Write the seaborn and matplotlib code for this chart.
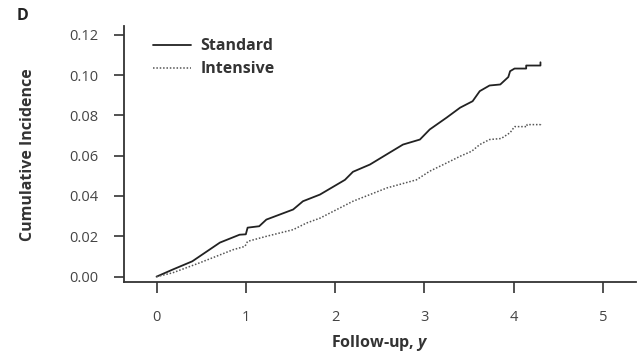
import matplotlib
matplotlib.use("Agg")
import matplotlib.pyplot as plt
import seaborn as sns
import pandas as pd

# Data
t_standard = [0, 0.18, 0.40, 0.71, 0.93, 1.00, 1.02, 1.15, 1.23, 1.38, 1.53, 1.64,
              1.83, 2.11, 2.20, 2.39, 2.61, 2.76, 2.95, 3.06, 3.25, 3.40, 3.54, 3.62,
              3.73, 3.85, 3.94, 3.96, 4.01, 4.14, 4.14, 4.30, 4.30]
y_standard = [0, 0.0035, 0.0076, 0.0169, 0.0208, 0.0210, 0.0243, 0.0250, 0.0283, 0.0308,
              0.0333, 0.0374, 0.0407, 0.0480, 0.0520, 0.0556, 0.0615, 0.0655, 0.0680,
              0.0730, 0.0789, 0.0838, 0.0870, 0.0920, 0.0948, 0.0953, 0.0990, 0.1019,
              0.1032, 0.1032, 0.1047, 0.1047, 0.1063]

t_intensive = [0, 0.18, 0.48, 0.86, 0.99, 1.02, 1.23, 1.53, 1.68, 1.83, 2.20, 2.58,
               2.91, 3.06, 3.25, 3.40, 3.53, 3.62, 3.73, 3.86, 3.96, 4.01, 4.15, 4.15,
               4.30, 4.30]
y_intensive = [0, 0.0019, 0.0068, 0.0134, 0.0150, 0.0175, 0.0200, 0.0233, 0.0266,
               0.0290, 0.0374, 0.0440, 0.0480, 0.0523, 0.0564, 0.0597, 0.0622, 0.0655,
               0.0680, 0.0685, 0.0714, 0.0744, 0.0744, 0.0754, 0.0754, 0.0763]

series_names = ["Standard", "Intensive"]
x_ticks = [0, 1, 2, 3, 4, 5]
y_ticks = [0.00, 0.02, 0.04, 0.06, 0.08, 0.10, 0.12]

sns.set_style("ticks")
plt.rcParams["font.family"] = ["Open Sans", "DejaVu Sans"]
plt.rcParams["mathtext.fontset"] = "custom"
plt.rcParams["mathtext.bfit"] = "Open Sans:italic:bold"
plt.rcParams["mathtext.it"] = "Open Sans:italic"
plt.rcParams["mathtext.bf"] = "Open Sans:bold"
plt.rcParams["mathtext.rm"] = "Open Sans"

text_col = "#333333"

fig = plt.figure(figsize=(6.42, 3.57), dpi=100)
ax = fig.add_axes([123.5 / 642, 1 - 282.3 / 357, (636 - 123.5) / 642, (282.3 - 26) / 357])

df_s = pd.DataFrame({"t": t_standard, "y": y_standard})
df_i = pd.DataFrame({"t": t_intensive, "y": y_intensive})

sns.lineplot(data=df_s, x="t", y="y", estimator=None, sort=False, ax=ax,
             color="#222222", linewidth=1.3, label=series_names[0])
sns.lineplot(data=df_i, x="t", y="y", estimator=None, sort=False, ax=ax,
             color="#555555", linewidth=1.1, linestyle=(0, (1, 1.2)), label=series_names[1])

ax.set_xlim(-0.37, 5.37)
ax.set_ylim(-0.0028, 0.1243)
ax.set_xticks(x_ticks)
ax.set_xticklabels([str(v) for v in x_ticks])
ax.set_yticks(y_ticks)
ax.set_yticklabels([f"{v:.2f}" for v in y_ticks])

for s in ["top", "right"]:
    ax.spines[s].set_visible(False)
for s in ["left", "bottom"]:
    ax.spines[s].set_linewidth(1.3)
    ax.spines[s].set_color("#333333")

ax.tick_params(axis="x", direction="out", length=7.8, width=1.2, pad=12,
               labelsize=10.5, colors="#333333", labelcolor="#444444")
ax.tick_params(axis="y", direction="out", length=7.3, width=1.2, pad=11,
               labelsize=10.5, colors="#333333", labelcolor="#444444")

ax.set_xlabel("Follow-up, $\\mathbfit{y}$", fontsize=11.5, fontweight="bold",
              color=text_col, labelpad=6)
ax.set_ylabel("Cumulative Incidence", fontsize=11.5, fontweight="bold",
              color=text_col, labelpad=24)

leg = ax.legend(loc="upper left", bbox_to_anchor=(0.035, 0.995), frameon=False,
                fontsize=11.5, handlelength=2.4, handletextpad=0.6,
                labelspacing=0.42, borderaxespad=0.3)
for txt in leg.get_texts():
    txt.set_fontweight("bold")
    txt.set_color(text_col)

fig.text(17 / 642, 1 - 16 / 357, "D", fontsize=11.5, fontweight="bold",
         color="#222222", va="center", ha="left")

fig.savefig("out.png", dpi=100)
